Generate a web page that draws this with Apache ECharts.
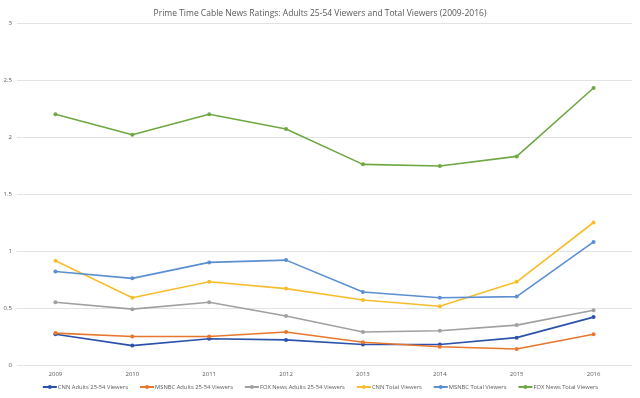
<!DOCTYPE html>
<html>
<head>
<meta charset="utf-8">
<script src="https://cdn.jsdelivr.net/npm/echarts@6/dist/echarts.min.js"></script>
<style>
  html, body { margin: 0; padding: 0; background: #fff; }
  #chart { width: 640px; height: 398px; }
</style>
</head>
<body>
<div id="chart"></div>
<script>
// Datos del gráfico
const years = ['2009', '2010', '2011', '2012', '2013', '2014', '2015', '2016'];
const cnnAdults = [0.27, 0.17, 0.23, 0.22, 0.18, 0.18, 0.24, 0.42];
const msnbcAdults = [0.28, 0.25, 0.25, 0.29, 0.20, 0.16, 0.14, 0.27];
const foxAdults = [0.55, 0.49, 0.55, 0.43, 0.29, 0.30, 0.35, 0.48];
const cnnTotal = [0.915, 0.59, 0.73, 0.67, 0.57, 0.515, 0.73, 1.25];
const msnbcTotal = [0.82, 0.76, 0.90, 0.92, 0.64, 0.59, 0.60, 1.08];
const foxTotal = [2.20, 2.02, 2.20, 2.07, 1.76, 1.745, 1.83, 2.43];
const yTicks = [0, 0.5, 1, 1.5, 2, 2.5, 3];

const font = '"Open Sans", "Liberation Sans", sans-serif';

const makeSeries = (name, data, color) => ({
  name: name,
  type: 'line',
  data: data,
  symbol: 'circle',
  symbolSize: 4,
  showSymbol: true,
  itemStyle: { color: color },
  lineStyle: { width: 1.6, color: color }
});

const chart = echarts.init(document.getElementById('chart'));
const option = {
  animation: false,
  backgroundColor: '#fff',
  title: {
    text: 'Prime Time Cable News Ratings: Adults 25-54 Viewers and Total Viewers (2009-2016)',
    left: 'center',
    top: 4,
    textStyle: {
      fontFamily: font,
      fontSize: 8.5,
      fontWeight: 'normal',
      color: '#595959'
    }
  },
  grid: {
    left: 17,
    right: 8,
    top: 23,
    bottom: 33
  },
  legend: {
    bottom: 8,
    left: 'center',
    padding: 0,
    itemWidth: 14,
    itemHeight: 5,
    itemGap: 11,
    textStyle: {
      fontFamily: font,
      fontSize: 5.8,
      color: '#595959',
      padding: [0, 0, 0, -4]
    }
  },
  xAxis: {
    type: 'category',
    data: years,
    boundaryGap: true,
    axisLine: { show: false },
    axisTick: { show: false },
    axisLabel: {
      fontFamily: font,
      fontSize: 6,
      color: '#595959',
      margin: 6
    }
  },
  yAxis: {
    type: 'value',
    min: 0,
    max: 3,
    interval: 0.5,
    axisLine: { show: false },
    axisTick: { show: false },
    axisLabel: {
      fontFamily: font,
      fontSize: 6,
      color: '#595959',
      margin: 5,
      formatter: v => yTicks.includes(v) ? String(v) : ''
    },
    splitLine: {
      lineStyle: { color: '#e3e3e3', width: 1 }
    }
  },
  series: [
    makeSeries('CNN Adults 25-54 Viewers', cnnAdults, '#2a52ad'),
    makeSeries('MSNBC Adults 25-54 Viewers', msnbcAdults, '#e8772e'),
    makeSeries('FOX News Adults 25-54 Viewers', foxAdults, '#a0a0a0'),
    makeSeries('CNN Total Viewers', cnnTotal, '#f7bd2c'),
    makeSeries('MSNBC Total Viewers', msnbcTotal, '#5b8fd2'),
    makeSeries('FOX News Total Viewers', foxTotal, '#6fa843')
  ]
};
chart.setOption(option);
</script>
</body>
</html>
